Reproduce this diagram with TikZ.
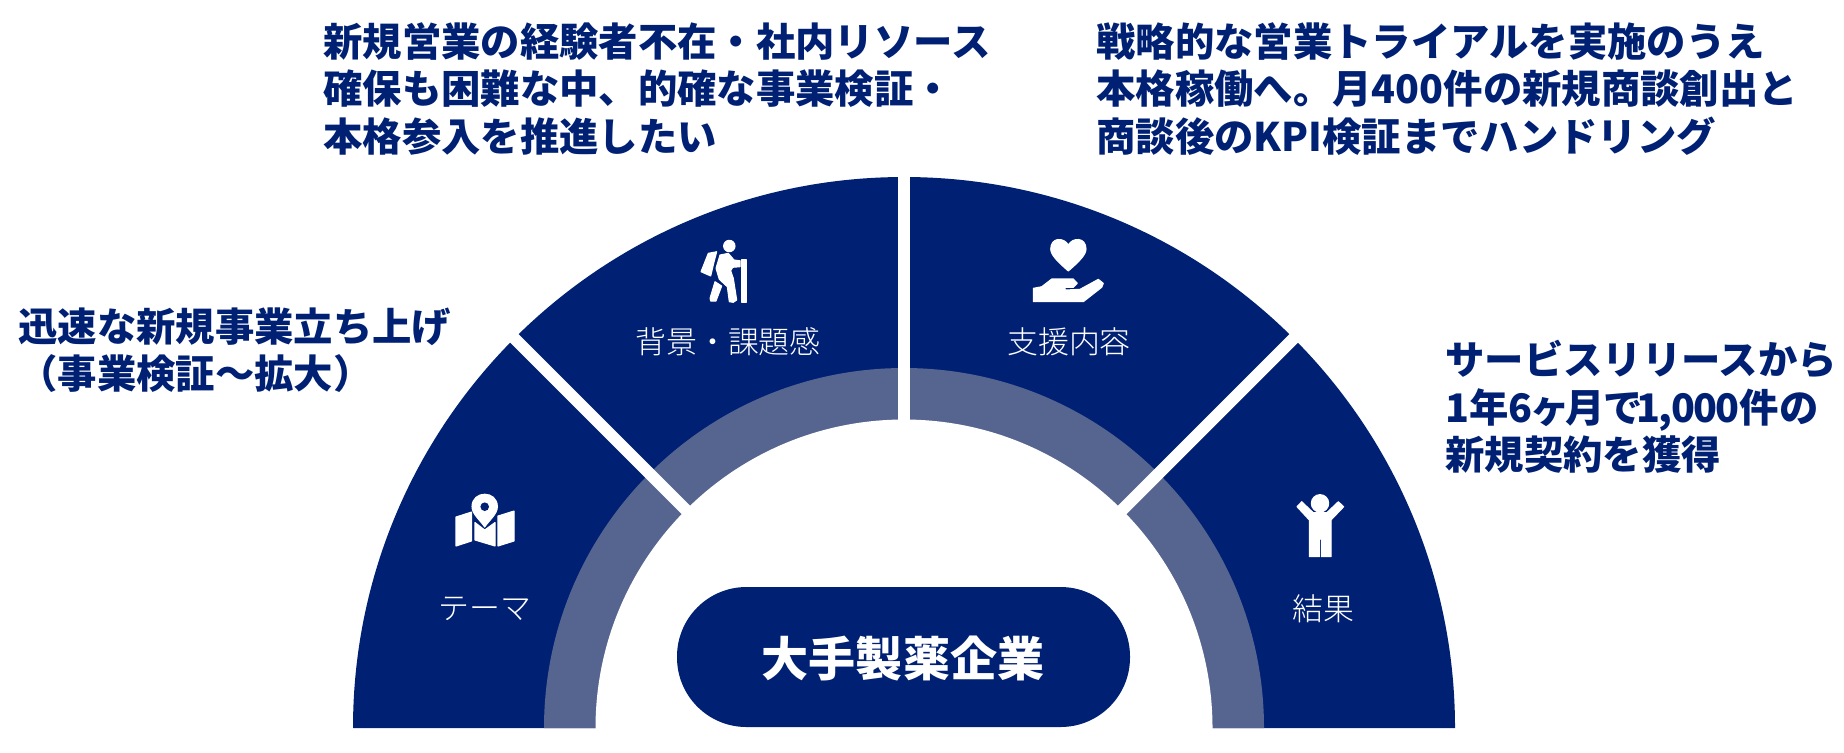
\documentclass[tikz,border=0pt]{standalone}
\usepackage{fontspec}
\setmainfont{Noto Sans CJK JP}
\newfontfamily\lightcjk[UprightFont=* Light]{Noto Sans CJK JP}
\definecolor{navy}{HTML}{002074}
\definecolor{band}{HTML}{566490}
\tikzset{
  headtext/.style={anchor=north west,align=left,text=navy,font=\fontsize{22.4}{27}\selectfont\bfseries,inner sep=0pt},
  secttext/.style={text=white,font=\fontsize{17.6}{20}\selectfont\lightcjk,inner sep=0pt},
  gapline/.style={white,line width=0.24cm},
  iconpart/.style={fill=white,draw=white,line width=0.6pt,line join=round},
}
\begin{document}
\begin{tikzpicture}[x=0.02cm,y=-0.02cm]
      \useasboundingbox (0,0) rectangle (1844,752);
      \coordinate (mid) at (904,728);
      % half ring
      \fill[navy] (353,728) arc (180:360:551) -- cycle;
      \fill[band] (544,728) arc (180:360:360) -- cycle;
      % gaps between the sectors
      \draw[gapline] (mid) ++(270:300) -- ++(270:260);
      \draw[gapline] (mid) ++(225:300) -- ++(225:260);
      \draw[gapline] (mid) ++(315:300) -- ++(315:260);
      \fill[white] (595.5,728) arc (180:360:308.5) -- (1212.5,731) -- (595.5,731) -- cycle;
      % middle
      \fill[navy,rounded corners=1.39cm] (677,727) rectangle (1130,587);
      \node[text=white,font=\fontsize{26.8}{30}\selectfont\bfseries] (company) at (903,658) {大手製薬企業};
      % labels of the sectors
      \node[secttext] (theme) at (485,609) {テーマ};
      \node[secttext] (background) at (728,342) {背景・課題感};
      \node[secttext] (support) at (1069,342) {支援内容};
      \node[secttext] (result) at (1323.5,609) {結果};
      % map
      \fill[iconpart] (456,517)--(471.5,512)--(471.5,541)--(456,546)--cycle;
      \fill[iconpart] (475,522.5)--(484.7,530)--(495,522.5)--(495,546)--(475,540)--cycle;
      \fill[iconpart] (498,516)--(514,511)--(514,541)--(498,546)--cycle;
      \fill[iconpart] (484.7,527) .. controls (480,520) and (472,514) .. (472,506.7) .. controls (472,490) and (497.4,490) .. (497.4,506.7) .. controls (497.4,514) and (489.4,520) .. (484.7,527)--cycle;
      \fill[navy] (484.7,506.7)circle(4.3);
      % hiker
      \fill[iconpart] (729.3,246)circle(5.7);
      \fill[iconpart] (708.3,253.3)--(716.7,251.7)--(714,262)--(710.7,276)--(701,271.7)--cycle;
      \fill[iconpart] (720,255)--(728.3,253.3)--(734,260)--(740,260.7)--(740,266.7)--(732.7,267.3)--(730.7,270.7)--(733.3,278.3)--(736.7,300)--(733.3,302.3)--(729.3,301.7)--(727.3,286.7)--(719.3,279.3)--(716,268.3)--cycle;
      \fill[iconpart] (715,281.7)--(721.7,286)--(716,301)--(710.7,301)--(710,298.3)--cycle;
      \fill[iconpart] (741.5,260)--(746.5,260)--(746.5,302)--(741.5,302)--cycle;
      % heart and hand
      \fill[iconpart] (1068.3,271) .. controls (1058,262) and (1050.7,255) .. (1050.7,249) .. controls (1050.7,237) and (1064,237) .. (1068.3,245) .. controls (1072.6,237) and (1086,237) .. (1086,249) .. controls (1086,255) and (1078.6,262) .. (1068.3,271)--cycle;
      \fill[iconpart] (1033.3,301.7)--(1033.3,288.3)--(1041.7,286.7)--(1051.7,279)--(1073.3,279)--(1077.3,283.3)--(1073.3,287.3)--(1065,287.3)--(1065,290)--(1080,289.3)--(1098.3,279.3)--(1103.3,283.3)--(1101.7,287.3)--(1083.3,301.7)--cycle;
      % child
      \fill[iconpart] (1320,503.3)circle(8.7);
      \fill[iconpart] (1297,506.7)--(1301.7,501.7)--(1313.3,512.7)--(1326.7,512.7)--(1338.3,501.7)--(1343.7,506.7)--(1331,520)--(1331,556.7)--(1321.3,556.7)--(1321.3,539)--(1319.3,539)--(1319.3,556.7)--(1309.3,556.7)--(1309.3,520)--cycle;
      % texts around
      \node[headtext] (themetext) at (18,307) {迅速な新規事業立ち上げ\\（事業検証〜拡大）};
      \node[headtext] (backgroundtext) at (323,22) {新規営業の経験者不在・社内リソース\\確保も困難な中、的確な事業検証・\\本格参入を推進したい};
      \node[headtext] (supporttext) at (1096,22) {戦略的な営業トライアルを実施のうえ\\本格稼働へ。月400件の新規商談創出と\\商談後のKPI検証までハンドリング};
      \node[headtext] (resulttext) at (1445,340) {サービスリリースから\\\addfontfeature{RawFeature=+palt}1年6ヶ月で\kern-2.5pt{\addfontfeature{LetterSpace=-4}1,000}件の\\新規契約を獲得};
    \end{tikzpicture}
\end{document}
